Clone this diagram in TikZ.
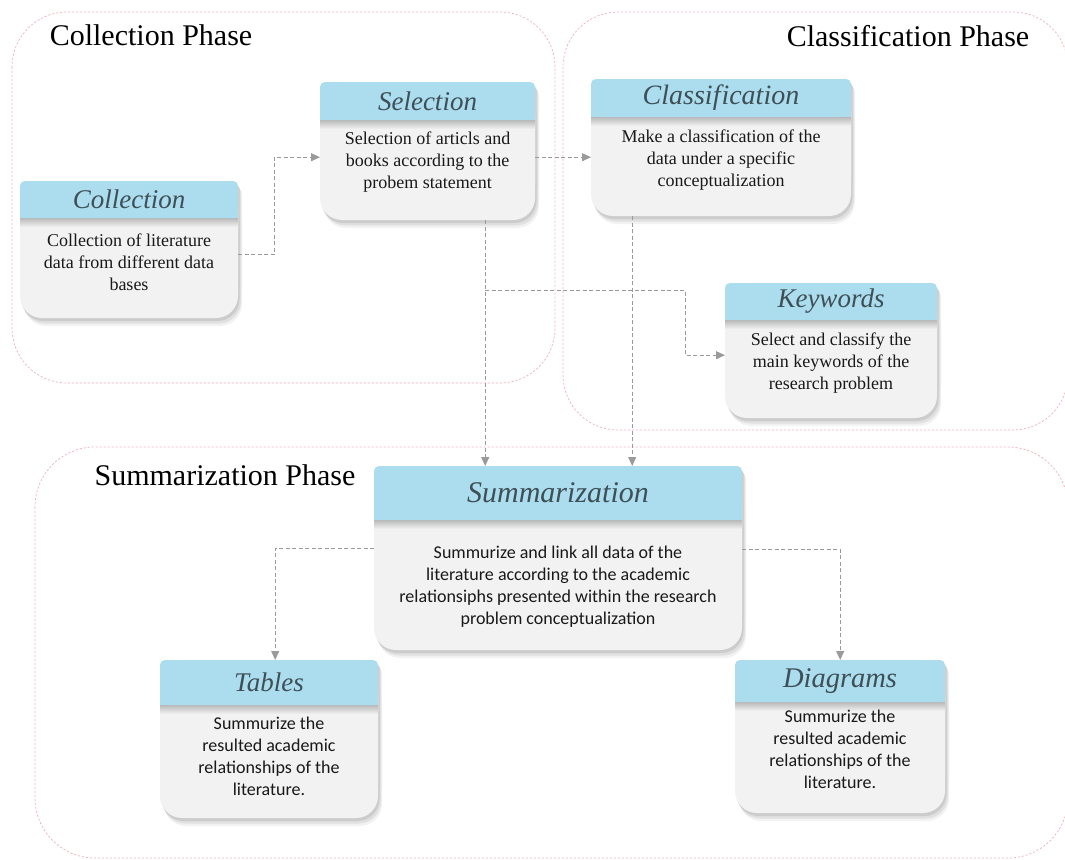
\documentclass[tikz,border=0pt]{standalone}
\usepackage{fontspec}
\setmainfont{Liberation Serif}
\newfontfamily\bodysans{Carlito}
\usetikzlibrary{arrows.meta,calc}

\definecolor{headblue}{HTML}{ABDDEE}
\definecolor{cardbody}{HTML}{F2F2F2}
\definecolor{headink}{HTML}{3E4F56}
\definecolor{phasepink}{HTML}{EEB0BA}
\definecolor{flowgray}{HTML}{9A9A9A}

\newcommand\sansbody{\bodysans\fontsize{18}{22.5}\selectfont}

\tikzset{
  phase/.style={draw=phasepink, line width=0.7pt, dash pattern=on 2.2pt off 1.8pt},
  phasetitle/.style={font=\rmfamily\fontsize{30}{33}\selectfont, text=black, inner sep=0pt},
  cardframe/.style={inner sep=0pt, draw=none},
  cardtitle/.style={font=\rmfamily\fontsize{27}{30}\selectfont\itshape, text=headink, inner sep=0pt},
  cardtext/.style={font=\rmfamily\fontsize{18}{22}\selectfont, text=black!90, align=center, inner sep=0pt},
  flow/.style={draw=flowgray, line width=0.9pt, dash pattern=on 4pt off 2.5pt,
    -{Triangle[length=9pt,width=8pt,fill=flowgray]}},
}

% filled card outline: small rounding on top, wide rounding at the bottom
\newcommand\cardfill[5]{%
  \fill[#1,rounded corners=5pt] ({#2},{#3}) rectangle ({#4},{#5-30});
  \fill[#1,rounded corners=22pt] ({#2},{#3+10}) rectangle ({#4},{#5});
}

% #1 name, #2 left, #3 top, #4 right, #5 bottom, #6 header bottom,
% #7 title, #8 body centre y, #9 body text
\newcommand\card[9]{%
  \cardfill{gray!10}{#2+4}{#3+8}{#4+4}{#5+8}
  \cardfill{gray!24}{#2+3}{#3+5.5}{#4+3}{#5+5.5}
  \cardfill{gray!40}{#2+1.5}{#3+3}{#4+1.5}{#5+3}
  \cardfill{cardbody}{#2}{#3}{#4}{#5}
  \shade[top color=gray!55, bottom color=cardbody] ({#2},{#6}) rectangle ({#4},{#6+9});
  \fill[headblue,rounded corners=5pt] ({#2},{#3}) rectangle ({#4},{#6});
  \fill[headblue] ({#2},{#3+6}) rectangle ({#4},{#6});
  \node[cardframe, minimum width={#4-#2}, minimum height={#5-#3}, anchor=north west] (#1) at ({#2},{#3}) {};
  \node[cardtitle] (#1-title) at ({(#2+#4)/2},{(#3+#6)/2}) {#7};
  \node[cardtext] (#1-text) at ({(#2+#4)/2},{#8}) {#9};
}

\begin{document}
\begin{tikzpicture}[x=1pt,y=-1pt]
\useasboundingbox (0,0) rectangle (1065,859);

% phase regions
\draw[phase, rounded corners=55pt] (12,12) rectangle (555,383);
\draw[phase, rounded corners=55pt] (563,12) rectangle (1068,430);
\draw[phase, rounded corners=60pt] (35,447) rectangle (1068,858);

\node[phasetitle] (ph1) at (151,35) {Collection Phase};
\node[phasetitle] (ph2) at (908,36) {Classification Phase};
\node[phasetitle] (ph3) at (225,475) {Summarization Phase};

% cards
\card{coll}{20}{181}{238}{318}{218}{Collection}{262}%
  {Collection of literature\\data from different data\\bases}
\card{sel}{320}{82}{535}{220}{120}{Selection}{162}%
  {Selection of articls and\\books according to the\\probem statement}
\card{cls}{591}{79}{851}{216}{117}{\fontsize{28}{30}\selectfont Classif\kern1pt ication}{160}%
  {Make a classification of the\\data under a specific\\conceptualization}
\card{kw}{725}{283}{937}{418}{320}{Keywords}{363}%
  {Select and classify the\\main keywords of the\\research problem}
\card{sum}{374}{466}{742}{650}{520}{\fontsize{30}{32}\selectfont Summarization}{587}%
  {\sansbody Summurize and link all data of the\\\sansbody literature according to the academic\\\sansbody relationsiphs presented within the research\\\sansbody problem conceptualization}
\card{tab}{160}{660}{378}{818}{705}{\fontsize{27}{30}\selectfont Tables}{756}%
  {\sansbody Summurize the\\\sansbody resulted academic\\\sansbody relationships of the\\\sansbody literature.}
\card{dia}{735}{660}{945}{813}{702}{\fontsize{28.5}{30}\selectfont Diagrams}{749}%
  {\sansbody Summurize the\\\sansbody resulted academic\\\sansbody relationships of the\\\sansbody literature.}

% connectors
\coordinate (collR) at ($(coll.east)+(0,5)$);
\coordinate (selL) at ($(sel.west)+(0,6)$);
\draw[flow] (collR) -- ++(36,0) |- (selL);

\coordinate (selR) at ($(sel.east)+(0,6)$);
\draw[flow] (selR) -- (selR -| cls.west);

\coordinate (selB) at ($(sel.south)+(57.5,0)$);
\draw[flow] (selB) -- (selB |- sum.north);

\coordinate (br) at ($(selB)+(0,70)$);
\coordinate (kwL) at ($(kw.west)+(0,4.5)$);
\draw[flow] (br) -- ++(200,0) |- (kwL);

\coordinate (clsB) at ($(cls.south)+(-89,0)$);
\draw[flow] (clsB) -- (clsB |- sum.north);

\coordinate (sumL) at ($(sum.west)+(0,-10)$);
\coordinate (tabT) at ($(tab.north)+(6,0)$);
\draw[flow] (sumL) -| (tabT);

\coordinate (sumR) at ($(sum.east)+(0,-9)$);
\draw[flow] (sumR) -| (dia.north);
\end{tikzpicture}
\end{document}
